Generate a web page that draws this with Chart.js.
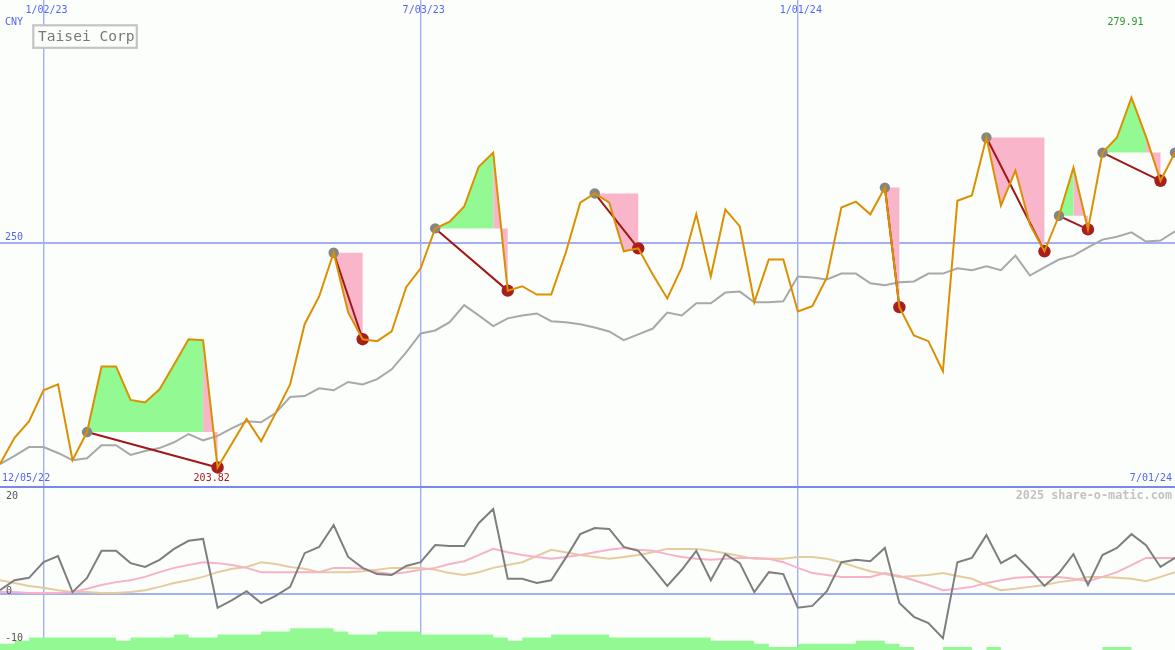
<!DOCTYPE html>
<html><head><meta charset="utf-8">
<script src="https://cdn.jsdelivr.net/npm/chart.js@4.4.1/dist/chart.umd.min.js"></script>
<style>
html,body{margin:0;padding:0;background:#fcfefc;}
#wrap{position:relative;width:1175px;height:650px;overflow:hidden;background:#fcfefc;}
#top{position:absolute;left:0;top:0;width:1175px;height:486px;}
#bot{position:absolute;left:0;top:486px;width:1175px;height:164px;}
</style></head><body>
<div id="wrap"><div id="top"><canvas id="c1"></canvas></div><div id="bot"><canvas id="c2"></canvas></div></div>
<script>
// ---- data (weekly points, index 0..81) ----
const gridIdx = [3, 29, 55];
const gridDates = ['1/02/23', '7/03/23', '1/01/24'];
const firstDate = '12/05/22';
const lastDate = '7/01/24';
const currency = 'CNY';
const stockName = 'Taisei Corp';
const priceTicks = [250];
const oscTicks = [20, 0, -10];

const closePrice = [
  204.5, 209.9, 213.3, 219.7, 220.9, 205.3, 211.1, 224.6, 224.6, 217.7,
  217.2, 219.9, 225.0, 230.2, 230.0, 203.82, 208.8, 213.8, 209.2, 215.0,
  220.9, 233.3, 239.0, 248.0, 235.7, 230.2, 229.8, 231.8, 240.9, 244.8,
  253.0, 254.4, 257.5, 265.7, 268.6, 240.2, 241.1, 239.4, 239.4, 248.0,
  258.3, 260.2, 258.3, 248.3, 248.9, 243.5, 238.6, 245.0, 255.9, 243.1,
  256.9, 253.4, 237.8, 246.6, 246.6, 235.9, 237.0, 242.9, 257.3, 258.5,
  255.9, 261.4, 236.8, 231.0, 229.8, 223.6, 258.7, 259.8, 271.7, 257.7,
  264.9, 253.8, 248.3, 255.6, 265.5, 252.8, 268.6, 271.7, 279.91, 271.9,
  262.8, 268.6];
const movingAvg = [
  204.5, 206.2, 208.0, 208.0, 206.8, 205.3, 205.7, 208.4, 208.4, 206.4,
  207.2, 207.8, 209.0, 210.7, 209.4, 210.3, 211.9, 213.3, 213.1, 215.0,
  218.3, 218.5, 220.1, 219.7, 221.4, 220.9, 222.0, 224.0, 227.5, 231.4,
  232.0, 233.7, 237.2, 235.1, 232.9, 234.5, 235.1, 235.5, 233.9, 233.7,
  233.3, 232.6, 231.8, 230.0, 231.2, 232.4, 235.7, 235.1, 237.6, 237.6,
  239.8, 240.0, 237.8, 237.8, 238.0, 243.1, 242.9, 242.5, 243.7, 243.7,
  241.7, 241.3, 241.9, 242.1, 243.7, 243.7, 244.8, 244.4, 245.2, 244.4,
  247.4, 243.3, 245.0, 246.6, 247.4, 249.1, 250.7, 251.3, 252.2, 250.3,
  250.5, 252.4];
const entryIdx = [6, 23, 30, 41, 61, 68, 73, 76, 81];
const exitIdx = [15, 25, 35, 44, 62, 72, 75, 80];

const oscLine = [
  0.8, 2.9, 3.4, 6.7, 8.0, 0.4, 3.4, 9.1, 9.1, 6.5,
  5.7, 7.2, 9.5, 11.2, 11.6, -2.9, -1.3, 0.6, -1.9, -0.4,
  1.5, 8.6, 9.9, 14.5, 7.8, 5.5, 4.2, 4.0, 5.9, 6.7,
  10.3, 10.1, 10.1, 14.9, 17.9, 3.2, 3.2, 2.3, 2.9, 7.6,
  12.6, 13.9, 13.7, 9.9, 9.1, 5.5, 1.7, 5.1, 9.1, 2.9,
  8.4, 6.5, 0.4, 4.6, 4.2, -2.9, -2.5, 0.6, 6.7, 7.2,
  6.9, 9.7, -1.9, -4.8, -6.1, -9.3, 6.7, 7.6, 12.4, 6.5,
  8.2, 5.1, 1.7, 4.4, 8.4, 1.9, 8.2, 9.7, 12.6, 10.3,
  5.7, 7.6];
const pinkLine = [
  0.4, 0.4, 0.2, 0.2, 0.2, 0.4, 1.1, 1.9, 2.5, 2.9,
  3.6, 4.6, 5.5, 6.1, 6.7, 6.5, 6.1, 5.5, 4.6, 4.6,
  4.6, 4.6, 4.6, 5.5, 5.5, 5.3, 4.6, 4.2, 4.6, 5.1,
  5.5, 6.3, 6.9, 8.2, 9.5, 8.8, 8.2, 7.8, 7.4, 7.8,
  8.2, 8.8, 9.3, 9.7, 9.3, 9.1, 8.4, 7.8, 7.4, 7.2,
  7.4, 7.6, 7.6, 7.4, 6.7, 5.5, 4.4, 4.0, 3.6, 3.6,
  3.6, 4.4, 3.8, 2.9, 1.9, 0.8, 1.1, 1.5, 2.3, 2.9,
  3.4, 3.6, 3.6, 3.6, 3.2, 2.7, 3.6, 4.6, 6.1, 7.6,
  7.6, 7.6];
const tanLine = [
  2.9, 2.3, 1.7, 1.3, 0.8, 0.4, 0.4, 0.2, 0.2, 0.4,
  0.8, 1.5, 2.3, 2.9, 3.6, 4.6, 5.3, 5.7, 6.7, 6.3,
  5.7, 5.3, 4.6, 4.6, 4.6, 4.8, 5.1, 5.5, 5.5, 5.5,
  5.1, 4.4, 4.0, 4.6, 5.5, 6.1, 6.7, 8.0, 9.3, 8.8,
  8.2, 7.8, 7.4, 7.8, 8.2, 8.8, 9.5, 9.5, 9.5, 9.1,
  8.6, 8.0, 7.4, 7.4, 7.4, 7.8, 7.8, 7.4, 6.7, 5.7,
  4.8, 4.2, 3.6, 3.8, 4.0, 4.4, 3.8, 3.2, 1.9, 0.8,
  1.1, 1.5, 1.9, 2.5, 2.9, 3.6, 3.6, 3.4, 3.2, 2.7,
  3.6, 4.6];
const volumeLevel = [
  2, 2, 3, 4, 4, 4, 4, 4, 4, 3,
  4, 4, 4, 5, 4, 4, 5, 5, 5, 6,
  6, 7, 7, 7, 6, 5, 5, 6, 6, 6,
  5, 5, 5, 5, 5, 4, 3, 4, 4, 5,
  5, 5, 5, 4, 4, 4, 4, 4, 4, 4,
  3, 3, 3, 2, 1, 1, 2, 2, 2, 2,
  3, 3, 2, 1, 0, 0, 1, 1, 0, 1,
  0, 0, 0, 0, 0, 0, 0, 1, 1, 0,
  0];

// ---- styles ----
const BLUE_TXT = '#5566ee';
const GRID = '#a2b0f2';
const FONT = '"DejaVu Sans Mono", monospace';
const GREEN_FILL = '#93f993';
const PINK_FILL = '#f9b5c9';
const N = closePrice.length - 1;

// ---- build derived datasets ----
const pts = arr => arr.map((v, i) => ({x: i, y: v}));

const fillSets = [];
function pushPoly(a, b, col, e) {
  const d = [];
  for (let i = a; i <= b; i++) d.push({x: i, y: closePrice[i]});
  d.push({x: b, y: e}); d.push({x: a, y: e});
  fillSets.push({type: 'line', data: d, fill: 'shape', backgroundColor: col,
    borderWidth: 0, pointRadius: 0, tension: 0, order: 10});
}
exitIdx.forEach((ex, t) => {
  const en = entryIdx[t];
  const e = closePrice[en];
  let a = en, col = null;
  for (let k = en; k < ex; k++) {
    const c = closePrice[k + 1] >= e ? GREEN_FILL : PINK_FILL;
    if (col === null) col = c;
    if (c !== col) { pushPoly(a, k, col, e); a = k; col = c; }
  }
  pushPoly(a, ex, col, e);
});

const connector = [];
exitIdx.forEach((ex, t) => {
  const en = entryIdx[t];
  connector.push({x: en, y: closePrice[en]}, {x: ex, y: closePrice[ex]}, {x: ex, y: null});
});

let maxI = 0, minI = 0;
closePrice.forEach((v, i) => { if (v > closePrice[maxI]) maxI = i; if (v < closePrice[minI]) minI = i; });

const xScale = {
  type: 'linear', min: 0, max: N, display: true,
  afterBuildTicks: s => { s.ticks = gridIdx.map(v => ({value: v})); },
  ticks: {display: false}, border: {display: false},
  grid: {color: GRID, lineWidth: 1.4, drawTicks: false}
};

const topLabels = {
  id: 'topLabels',
  afterDraw(chart) {
    const ctx = chart.ctx, xs = chart.scales.x, ys = chart.scales.y;
    ctx.save();
    ctx.font = '10px ' + FONT;
    ctx.fillStyle = BLUE_TXT;
    ctx.textBaseline = 'alphabetic';
    ctx.textAlign = 'center';
    gridIdx.forEach((v, i) => ctx.fillText(gridDates[i], xs.getPixelForValue(v) + 3, 13));
    ctx.textAlign = 'left';
    ctx.fillText(currency, 5, 25);
    priceTicks.forEach(v => ctx.fillText(String(v), 5, ys.getPixelForValue(v) - 3));
    ctx.fillText(firstDate, 2, 481);
    ctx.textAlign = 'right';
    ctx.fillText(lastDate, 1172, 481);
    ctx.textAlign = 'left';
    ctx.fillStyle = '#a52020';
    ctx.fillText(closePrice[minI].toFixed(2), xs.getPixelForValue(minI) - 24, 481);
    ctx.fillStyle = '#2a9a2a';
    ctx.fillText(closePrice[maxI].toFixed(2), xs.getPixelForValue(maxI) - 24, 25);
    // name box
    ctx.fillStyle = '#fcfefc';
    ctx.fillRect(33, 25, 104, 22);
    ctx.strokeStyle = '#c4c4c4';
    ctx.lineWidth = 2.2;
    ctx.strokeRect(33.3, 25.3, 103.5, 22.5);
    ctx.fillStyle = '#787878';
    ctx.font = '14.6px ' + FONT;
    ctx.fillText(stockName, 38, 41);
    ctx.restore();
  }
};

new Chart(document.getElementById('c1'), {
  type: 'line',
  data: {
    datasets: [
      {data: pts(closePrice), borderColor: '#da9000', borderWidth: 2, pointRadius: 0, tension: 0, fill: false, order: 0},
      {data: exitIdx.map(i => ({x: i, y: closePrice[i]})), showLine: false, pointRadius: 6.2, pointBackgroundColor: '#a81d1d', pointBorderWidth: 0, order: 1},
      {data: entryIdx.map(i => ({x: i, y: closePrice[i]})), showLine: false, pointRadius: 5.2, pointBackgroundColor: '#858585', pointBorderWidth: 0, order: 2},
      {data: connector, borderColor: '#a01818', borderWidth: 2, pointRadius: 0, tension: 0, spanGaps: false, fill: false, order: 3},
      {data: pts(movingAvg), borderColor: '#a8a8a8', borderWidth: 2, pointRadius: 0, tension: 0, fill: false, order: 4},
      ...fillSets
    ]
  },
  options: {
    responsive: true, maintainAspectRatio: false, animation: false,
    layout: {padding: 0, autoPadding: false},
    plugins: {legend: {display: false}, tooltip: {enabled: false}},
    scales: {
      x: xScale,
      y: {min: 200, max: 300, display: true,
          afterBuildTicks: s => { s.ticks = priceTicks.map(v => ({value: v})); },
          ticks: {display: false}, border: {display: false},
          grid: {color: GRID, lineWidth: 2, drawTicks: false}}
    }
  },
  plugins: [topLabels]
});

const botLabels = {
  id: 'botLabels',
  afterDraw(chart) {
    const ctx = chart.ctx, ys = chart.scales.y;
    ctx.save();
    ctx.fillStyle = '#7888ee';
    ctx.fillRect(0, 0, chart.width, 2);
    ctx.font = '10px ' + FONT;
    ctx.fillStyle = '#555555';
    ctx.textAlign = 'left';
    ctx.textBaseline = 'alphabetic';
    oscTicks.forEach(v => ctx.fillText(String(v), v < 0 ? 5 : 6, Math.min(ys.getPixelForValue(v), chart.height - 5)));
    ctx.font = 'bold 11.8px ' + FONT;
    ctx.fillStyle = '#c2c2c2';
    ctx.textAlign = 'right';
    ctx.fillText('2025 share-o-matic.com', 1172, 13);
    ctx.restore();
  }
};

const volPts = volumeLevel.map((v, i) => ({x: i, y: v}));
volPts.push({x: N, y: volumeLevel[volumeLevel.length - 1]});

new Chart(document.getElementById('c2'), {
  type: 'line',
  data: {
    datasets: [
      {data: pts(oscLine), borderColor: '#7e7e7e', borderWidth: 2, pointRadius: 0, tension: 0, fill: false, order: 0},
      {data: pts(pinkLine), borderColor: '#f8b2c8', borderWidth: 2, pointRadius: 0, tension: 0, fill: false, order: 1},
      {data: pts(tanLine), borderColor: '#e4cc9e', borderWidth: 2, pointRadius: 0, tension: 0, fill: false, order: 2},
      {data: volPts, yAxisID: 'yb', stepped: 'after', borderWidth: 0, pointRadius: 0, fill: 'origin', backgroundColor: '#93f993', order: 5}
    ]
  },
  options: {
    responsive: true, maintainAspectRatio: false, animation: false,
    layout: {padding: 0, autoPadding: false},
    plugins: {legend: {display: false}, tooltip: {enabled: false}},
    scales: {
      x: xScale,
      y: {min: -11.79, max: 22.74, display: true,
          afterBuildTicks: s => { s.ticks = [0].map(v => ({value: v})); },
          ticks: {display: false}, border: {display: false},
          grid: {color: GRID, lineWidth: 2, drawTicks: false}},
      yb: {min: 0, max: 52.9, display: false}
    }
  },
  plugins: [botLabels]
});
</script>
</body></html>
